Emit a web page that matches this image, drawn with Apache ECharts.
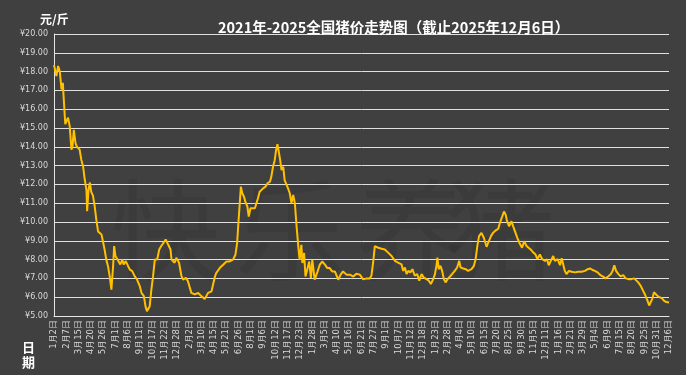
<!DOCTYPE html>
<html>
<head>
<meta charset="utf-8">
<script src="https://cdn.jsdelivr.net/npm/echarts@6/dist/echarts.min.js"></script>
<style>
html,body{margin:0;padding:0;background:#404040;}
#chart{width:686px;height:375px;}
</style>
</head>
<body>
<div id="chart"></div>
<script>
// x-axis tick labels (every 36th daily point)
var tickLabels = ['1月2日','2月7日','3月15日','4月20日','5月26日','7月1日','8月6日','9月11日','10月17日','11月22日','12月28日',
  '2月2日','3月10日','4月15日','5月21日','6月26日','8月1日','9月6日','10月12日','11月17日','12月23日',
  '1月28日','3月5日','4月10日','5月16日','6月21日','7月27日','9月1日','10月7日','11月12日','12月18日',
  '1月23日','2月28日','4月4日','5月10日','6月15日','7月20日','8月25日','9月30日','11月5日','12月11日',
  '1月16日','2月21日','3月29日','5月4日','6月9日','7月15日','8月20日','9月25日','10月31日','12月6日'];
var labelStep = 36;
var yTicks = [5,6,7,8,9,10,11,12,13,14,15,16,17,18,19,20];

// point index (day count from 2021-01-02) and price (元/斤)
var days = [0,2,7,12,17,22,26,28,33,36,41,46,51,54,58,63,67,75,80,85,90,95,97,101,105,109,114,119,124,129,139,144,148,153,158,163,168,171,173,176,180,186,190,194,200,204,210,217,222,229,236,243,251,256,263,268,272,276,280,285,290,295,298,302,308,314,319,327,334,341,344,349,353,358,366,373,378,386,392,397,402,412,422,431,441,
451,461,466,471,475,480,485,495,505,514,524,531,536,539,543,547,551,556,560,566,570,575,580,588,593,597,602,607,612,619,625,632,636,641,646,650,654,658,662,666,671,675,680,685,690,695,700,705,710,715,719,724,727,732,736,741,747,752,756,763,770,778,785,793,800,807,814,822,832,839,846,856,866,876,885,895,905,
915,924,929,934,939,944,949,959,968,978,988,998,1007,1017,1022,1027,1032,1037,1043,1049,1056,1063,1069,1076,1082,1090,1097,1103,1110,1115,1120,1122,1126,1131,1136,1141,1146,1152,1159,1165,1173,1180,1186,1190,1198,1205,1212,1222,1229,1234,1239,1244,1251,1258,1266,1271,1279,1285,1293,1300,1305,1312,1317,1322,1326,1332,1339,1344,1349,1356,1362,
1366,1370,1376,1383,1388,1395,1403,1409,1415,1422,1429,1437,1443,1448,1454,1461,1466,1474,1481,1486,1490,1495,1500,1507,1515,1525,1534,1544,1554,1562,1569,1575,1583,1591,1599,1607,1614,1622,1630,1635,1640,1645,1652,1659,1666,1673,1681,1690,1698,1703,1710,1717,1724,1731,1737,1742,1746,1751,1756,1760,1765,1772,1779,1785,1792,1800];
var prices = [18.35,18.38,17.76,18.3,18.0,17.05,17.4,16.7,15.2,15.1,15.55,15.1,13.85,14.0,14.9,14.2,14.0,13.85,13.3,12.97,12.26,11.7,10.58,11.7,12.1,11.6,11.4,10.85,10.1,9.5,9.34,8.9,8.54,8.0,7.65,7.12,6.4,6.4,7.65,8.72,8.18,8.0,8.1,7.74,8.0,7.74,7.92,7.65,7.47,7.39,7.12,6.94,6.59,6.23,6.06,5.5,5.26,5.17,5.5,6.4,7.12,8.0,8.1,8.0,8.54,8.72,8.8,9.07,8.8,8.54,8.0,8.1,7.83,8.1,7.83,7.12,6.94,7.03,6.85,6.77,6.23,6.15,6.23,6.06,5.91,
6.23,6.31,6.4,7.1,7.29,7.37,7.55,7.73,7.9,7.9,8.0,8.26,8.88,9.76,10.82,11.88,11.53,11.35,11.08,10.82,10.29,10.73,10.64,10.73,10.82,11.26,11.61,11.7,11.79,11.88,12.06,12.14,12.4,12.94,13.29,13.82,14.14,13.73,13.29,12.76,12.94,12.23,12.32,11.79,11.53,11.0,11.44,11.0,9.76,8.7,7.99,8.79,7.82,8.35,7.1,7.46,7.9,7.02,7.99,6.93,7.29,7.73,7.9,7.73,7.55,7.55,7.37,7.37,6.93,7.2,7.37,7.2,7.2,7.1,7.25,7.2,6.95,
7.0,7.0,7.14,7.84,8.72,8.8,8.63,8.58,8.54,8.37,8.19,7.93,7.84,7.75,7.4,7.58,7.23,7.4,7.32,7.49,7.14,7.23,6.88,7.23,7.05,6.96,6.88,6.7,6.96,7.23,7.75,8.1,7.49,7.67,7.4,6.96,6.79,6.96,7.1,7.23,7.4,7.58,7.93,7.58,7.53,7.49,7.4,7.49,7.67,8.02,8.72,9.25,9.42,9.16,8.68,8.9,9.25,9.42,9.56,9.63,9.95,10.3,10.56,10.39,10.04,9.77,10.04,9.77,9.51,9.16,8.9,
8.8,8.63,8.98,8.72,8.8,8.54,8.37,8.28,8.02,8.28,8.02,7.93,8.02,7.7,7.93,8.19,7.93,8.02,7.7,8.07,8.02,7.4,7.23,7.4,7.35,7.32,7.35,7.35,7.4,7.49,7.53,7.46,7.4,7.32,7.18,7.1,7.0,7.1,7.23,7.4,7.7,7.4,7.23,7.1,7.18,7.0,6.96,6.96,7.0,7.05,6.79,6.61,6.35,6.09,5.82,5.56,5.65,5.91,6.26,6.35,6.09,6.0,5.95,5.82,5.74,5.72];

var seriesData = days.map(function(d, i){ return [d, prices[i]]; });

var chart = echarts.init(document.getElementById('chart'));
var wm = ['快','乐','养','猪'];
var wmX = [165, 290, 410, 500];
chart.setOption({
  backgroundColor: '#404040',
  animation: false,
  title: {
    text: '2021年-2025全国猪价走势图（截止2025年12月6日）',
    left: 213, top: 15,
    textStyle: {color: '#ffffff', fontSize: 14.5, fontWeight: 'bold', fontFamily: 'Noto Sans CJK SC'}
  },
  graphic: wm.map(function(c, i){
    return {type: 'text', left: wmX[i] - 55, top: 175, z: 0, silent: true,
      style: {text: c, fill: 'rgba(0,0,0,0.07)', font: '110px "Noto Sans CJK SC"'}};
  }).concat([
    {type: 'text', left: 40, top: 13, style: {text: '元/斤', fill: '#ffffff', font: 'bold 12px "Noto Sans CJK SC"'}},
    {type: 'text', left: 22, top: 340, style: {text: '日\n期', fill: '#ffffff', font: 'bold 13px "Noto Sans CJK SC"', lineHeight: 15}}
  ]),
  grid: {left: 54, right: 17, top: 34, bottom: 59, containLabel: false},
  xAxis: {
    type: 'value', min: 0, max: tickLabels.length * labelStep - labelStep, interval: labelStep,
    axisLine: {show: true, lineStyle: {color: '#e6e6e6', width: 1}},
    axisTick: {show: false},
    splitLine: {show: false},
    axisLabel: {
      rotate: 90, margin: 4, color: '#d9d9d9', fontSize: 8.5, fontFamily: 'DejaVu Sans',
      showMinLabel: true, showMaxLabel: true,
      formatter: function(v){ return tickLabels[Math.round(v / labelStep)] || ''; }
    }
  },
  yAxis: {
    type: 'value', min: yTicks[0], max: yTicks[yTicks.length - 1], interval: 1,
    axisLine: {show: true, lineStyle: {color: '#e6e6e6', width: 1}},
    axisTick: {show: false},
    splitLine: {show: true, lineStyle: {color: '#e0e0e0', width: 1}},
    axisLabel: {
      color: '#d9d9d9', fontSize: 8, fontFamily: 'DejaVu Sans', margin: 6,
      formatter: function(v){ return '¥' + v.toFixed(2); }
    }
  },
  series: [{
    type: 'line', data: seriesData, showSymbol: false, symbol: 'none',
    lineStyle: {color: '#FFC000', width: 2}, z: 3
  }]
});
</script>
</body>
</html>
